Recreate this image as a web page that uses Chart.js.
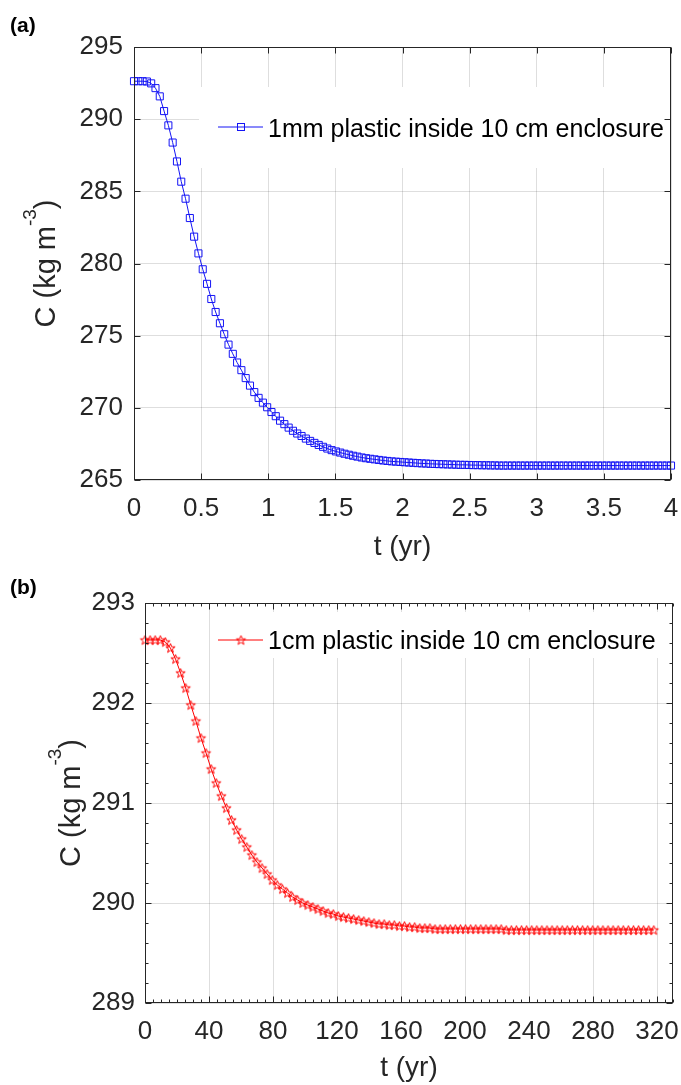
<!DOCTYPE html>
<html><head><meta charset="utf-8">
<script src="https://cdn.jsdelivr.net/npm/chart.js@4.4.1/dist/chart.umd.min.js"></script>
<style>
html,body{margin:0;padding:0;background:#fff;}
#wrap{position:relative;width:681px;height:1085px;overflow:hidden;background:#fff;}
canvas{position:absolute;left:0;}
#ca{top:0;} #cb{top:565px;}
</style></head><body>
<div id="wrap"><canvas id="ca" width="681" height="565"></canvas><canvas id="cb" width="681" height="520"></canvas></div>
<script>
// ---------- Panel (a) data ----------
const T_A = [0,0.032,0.064,0.096,0.128,0.16,0.192,0.224,0.256,0.288,0.32,0.352,0.384,0.416,0.448,0.48,0.512,0.544,0.576,0.608,0.64,0.672,0.704,0.736,0.768,0.8,0.832,0.864,0.896,0.928,0.96,0.992,1.024,1.056,1.088,1.12,1.152,1.184,1.216,1.248,1.28,1.312,1.344,1.376,1.408,1.44,1.472,1.504,1.536,1.568,1.6,1.632,1.664,1.696,1.728,1.76,1.792,1.824,1.856,1.888,1.92,1.952,1.984,2.016,2.048,2.08,2.112,2.144,2.176,2.208,2.24,2.272,2.304,2.336,2.368,2.4,2.432,2.464,2.496,2.528,2.56,2.592,2.624,2.656,2.688,2.72,2.752,2.784,2.816,2.848,2.88,2.912,2.944,2.976,3.008,3.04,3.072,3.104,3.136,3.168,3.2,3.232,3.264,3.296,3.328,3.36,3.392,3.424,3.456,3.488,3.52,3.552,3.584,3.616,3.648,3.68,3.712,3.744,3.776,3.808,3.84,3.872,3.904,3.936,3.968,4.0];
const C_A = [292.63,292.63,292.63,292.61,292.48,292.15,291.58,290.56,289.57,288.38,287.07,285.67,284.49,283.15,281.86,280.70,279.60,278.59,277.54,276.64,275.86,275.10,274.38,273.74,273.14,272.61,272.06,271.54,271.09,270.69,270.36,270.04,269.71,269.42,269.11,268.87,268.63,268.41,268.22,268.05,267.87,267.71,267.57,267.43,267.30,267.18,267.07,266.98,266.90,266.82,266.75,266.68,266.62,266.56,266.51,266.47,266.43,266.39,266.35,266.32,266.29,266.27,266.25,266.23,266.21,266.19,266.17,266.15,266.14,266.12,266.11,266.10,266.09,266.08,266.07,266.06,266.05,266.05,266.04,266.03,266.03,266.02,266.02,266.01,266.01,266.00,
266.00,266.00,266.00,266.00,266.00,266.00,266.00,266.00,266.00,266.00,266.00,266.00,266.00,266.00,266.00,266.00,266.00,266.00,266.00,266.00,266.00,266.00,266.00,266.00,266.00,266.00,266.00,266.00,266.00,266.00,266.00,266.00,266.00,266.00,266.00,266.00,266.00,266.00,266.00,266.00];
const XTICKS_A = [0,0.5,1,1.5,2,2.5,3,3.5,4];
const YTICKS_A = [265,270,275,280,285,290,295];
const LABEL_A = '1mm plastic inside 10 cm enclosure';

// ---------- Panel (b) data ----------
const T_B = [0,3.18,6.36,9.54,12.72,15.9,19.08,22.26,25.44,28.62,31.8,34.98,38.16,41.34,44.52,47.7,50.88,54.06,57.24,60.42,63.6,66.78,69.96,73.14,76.32,79.5,82.68,85.86,89.04,92.22,95.4,98.58,101.76,104.94,108.12,111.3,114.48,117.66,120.84,124.02,127.2,130.38,133.56,136.74,139.92,143.1,146.28,149.46,152.64,155.82,159,162.18,165.36,168.54,171.72,174.9,178.08,181.26,184.44,187.62,190.8,193.98,197.16,200.34,203.52,206.7,209.88,213.06,216.24,219.42,222.6,225.78,228.96,232.14,235.32,238.5,241.68,244.86,248.04,251.22,254.4,257.58,260.76,263.94,267.12,270.3,273.48,276.66,279.84,283.02,286.2,289.38,292.56,295.74,298.92,302.1,305.28,308.46,311.64,314.82,318];
const C_B = [292.63,292.63,292.63,292.63,292.61,292.55,292.44,292.30,292.15,291.98,291.82,291.65,291.50,291.34,291.20,291.07,290.95,290.83,290.73,290.64,290.56,290.48,290.41,290.35,290.29,290.23,290.18,290.14,290.10,290.06,290.03,290.00,289.98,289.96,289.94,289.92,289.90,289.89,289.87,289.86,289.85,289.84,289.83,289.82,289.81,289.80,289.79,289.79,289.78,289.78,289.77,289.77,289.76,289.76,289.75,289.75,289.75,289.74,289.74,
289.74,289.74,289.74,289.74,289.74,289.74,289.74,289.74,289.74,289.74,289.74,289.74,
289.73,289.73,289.73,289.73,289.73,289.73,289.73,289.73,289.73,289.73,289.73,289.73,289.73,289.73,289.73,289.73,289.73,289.73,289.73,289.73,289.73,289.73,289.73,289.73,289.73,289.73,289.73,289.73,289.73,289.73];
const XTICKS_B = [0,40,80,120,160,200,240,280,320];
const YTICKS_B = [289,290,291,292,293];
const LABEL_B = '1cm plastic inside 10 cm enclosure';

const FONT = "'Liberation Sans', Arial, Helvetica, sans-serif";
const AXIS_COL = '#262626';
const GRID_COL = 'rgba(0,0,0,0.13)';
const BLUE = 'rgb(20,20,245)';
const RED = 'rgb(255,0,0)';

function makeStar(color){
  const c = document.createElement('canvas');
  c.width = 13; c.height = 13;
  const g = c.getContext('2d');
  g.strokeStyle = color; g.lineWidth = 1;
  g.beginPath();
  for (let k = 0; k < 10; k++) {
    const r = (k % 2 === 0) ? 4.9 : 2.0;
    const a = -Math.PI / 2 + k * Math.PI / 5;
    const px = 6.5 + r * Math.cos(a), py = 6.9 + r * Math.sin(a);
    if (k) g.lineTo(px, py); else g.moveTo(px, py);
  }
  g.closePath(); g.stroke();
  return c;
}
const STAR = makeStar(RED);

function framePlugin(cfg){
  return {
    id: 'frame_' + cfg.name,
    beforeDatasetsDraw(chart){
      const ctx = chart.ctx, b = cfg.legBox;
      ctx.save(); ctx.fillStyle = '#fff'; ctx.fillRect(b.x, b.y, b.w, b.h); ctx.restore();
    },
    afterDraw(chart){
      const ctx = chart.ctx, a = chart.chartArea, xs = chart.scales.x, ys = chart.scales.y;
      const L = Math.round(a.left) + 0.5, R = Math.round(a.right) - 0.5;
      const T = Math.round(a.top) + 0.5, B = Math.round(a.bottom) - 0.5;
      ctx.save();
      ctx.strokeStyle = AXIS_COL; ctx.lineWidth = 1;
      ctx.strokeRect(L, T, R - L, B - T);
      ctx.beginPath();
      const isMaj = (v, arr) => arr.some(m => Math.abs(m - v) < 1e-6);
      const xt = (v, len) => { const p = Math.round(xs.getPixelForValue(v)) + 0.5; ctx.moveTo(p, B); ctx.lineTo(p, B - len); ctx.moveTo(p, T); ctx.lineTo(p, T + len); };
      const yt = (v, len) => { const p = Math.round(ys.getPixelForValue(v)) + 0.5; ctx.moveTo(L, p); ctx.lineTo(L + len, p); ctx.moveTo(R, p); ctx.lineTo(R - len, p); };
      cfg.xTicks.forEach(v => xt(v, 6));
      cfg.yTicks.forEach(v => yt(v, 6));
      if (cfg.xMinor) { for (let v = xs.min; v <= xs.max + 1e-9; v += cfg.xMinor) if (!isMaj(v, cfg.xTicks)) xt(v, 3); }
      if (cfg.yMinor) { for (let v = ys.min; v <= ys.max + 1e-9; v += cfg.yMinor) if (!isMaj(v, cfg.yTicks)) yt(v, 3); }
      ctx.stroke();

      // legend
      const lg = cfg.leg;
      ctx.strokeStyle = cfg.color; ctx.lineWidth = 1;
      ctx.beginPath(); ctx.moveTo(lg.x0, lg.y); ctx.lineTo(lg.x1, lg.y); ctx.stroke();
      if (cfg.marker === 'rect') {
        ctx.strokeRect(lg.xm - 3.5, lg.y - 3.5, 7, 7);
      } else {
        ctx.drawImage(STAR, lg.xm - STAR.width / 2, lg.y - STAR.height / 2);
      }
      ctx.fillStyle = '#000';
      ctx.font = '25px ' + FONT;
      ctx.textAlign = 'left'; ctx.textBaseline = 'alphabetic';
      ctx.fillText(cfg.label, lg.xt, lg.yb);

      // y title with superscript
      ctx.save();
      ctx.translate(cfg.yTitle.x, cfg.yTitle.y);
      ctx.rotate(-Math.PI / 2);
      ctx.fillStyle = AXIS_COL;
      const f1 = '29px ' + FONT, f2 = '19px ' + FONT;
      ctx.font = f1; const w1 = ctx.measureText('C (kg m').width; const w3 = ctx.measureText(')').width;
      ctx.font = f2; const w2 = ctx.measureText('-3').width;
      let sx = -(w1 + w2 + w3) / 2;
      ctx.textAlign = 'left';
      ctx.font = f1; ctx.fillText('C (kg m', sx, 0); sx += w1;
      ctx.font = f2; ctx.fillText('-3', sx, -19); sx += w2;
      ctx.font = f1; ctx.fillText(')', sx, 0);
      ctx.restore();

      // panel label
      ctx.fillStyle = '#000';
      ctx.font = 'bold 21px ' + FONT;
      ctx.textAlign = 'left'; ctx.textBaseline = 'alphabetic';
      ctx.fillText(cfg.panel, cfg.panelPos.x, cfg.panelPos.y);
      ctx.restore();
    }
  };
}

function build(canvas, cfg){
  return new Chart(canvas, {
    type: 'line',
    data: { datasets: [{
      label: cfg.label,
      data: cfg.T.map((t, i) => ({ x: t, y: cfg.C[i] })),
      borderColor: cfg.color, borderWidth: 1,
      pointStyle: cfg.marker === 'rect' ? 'rect' : STAR,
      pointRadius: 5, pointBorderWidth: 1,
      pointBorderColor: cfg.color, pointBackgroundColor: 'rgba(0,0,0,0)',
      pointHoverRadius: 5, pointHitRadius: 0,
      fill: false, tension: 0, clip: false
    }]},
    options: {
      responsive: false, animation: false, devicePixelRatio: 1, events: [],
      layout: { padding: { left: 0, right: cfg.padR, top: cfg.padT, bottom: 0 } },
      plugins: { legend: { display: false }, tooltip: { enabled: false } },
      scales: {
        x: {
          type: 'linear', min: cfg.xMin, max: cfg.xMax,
          afterBuildTicks: s => { s.ticks = cfg.xTicks.map(v => ({ value: v })); },
          afterFit: s => { s.height = cfg.xH; s.paddingLeft = 0; s.paddingRight = 0; },
          grid: { color: GRID_COL, lineWidth: 1, drawTicks: false },
          border: { display: false },
          ticks: { font: { family: FONT, size: 26 }, color: AXIS_COL, padding: cfg.xPad, maxRotation: 0, minRotation: 0, autoSkip: false, callback: v => String(v) },
          title: { display: true, text: 't (yr)', font: { family: FONT, size: 28, lineHeight: 1.2 }, color: AXIS_COL, padding: { top: 0, bottom: cfg.tPad } }
        },
        y: {
          type: 'linear', min: cfg.yMin, max: cfg.yMax,
          afterBuildTicks: s => { s.ticks = cfg.yTicks.map(v => ({ value: v })); },
          afterFit: s => { s.width = cfg.yW; s.paddingTop = 0; s.paddingBottom = 0; },
          grid: { color: GRID_COL, lineWidth: 1, drawTicks: false },
          border: { display: false },
          ticks: { font: { family: FONT, size: 26 }, color: AXIS_COL, padding: cfg.yPad, autoSkip: false, callback: v => String(v) }
        }
      }
    },
    plugins: [framePlugin(cfg)]
  });
}

build(document.getElementById('ca'), {
  name: 'a', T: T_A, C: C_A, label: LABEL_A, color: BLUE, marker: 'rect',
  xMin: 0, xMax: 4, yMin: 265, yMax: 295, xTicks: XTICKS_A, yTicks: YTICKS_A,
  xMinor: 0, yMinor: 0,
  padT: 47, padR: 10, yW: 134, xH: 85, xPad: 13, yPad: 11, tPad: 1,
  legBox: { x: 199, y: 87, w: 471, h: 81 },
  leg: { x0: 218, x1: 263, xm: 241, y: 127, xt: 268, yb: 136.5 },
  yTitle: { x: 55, y: 263.5 },
  panel: '(a)', panelPos: { x: 10, y: 32 }
});

build(document.getElementById('cb'), {
  name: 'b', T: T_B, C: C_B, label: LABEL_B, color: RED, marker: 'star',
  xMin: 0, xMax: 330, yMin: 289, yMax: 293, xTicks: XTICKS_B, yTicks: YTICKS_B,
  xMinor: 5, yMinor: 0.2,
  padT: 38, padR: 8, yW: 145, xH: 82, xPad: 13, yPad: 10, tPad: 0,
  legBox: { x: 213, y: 47, w: 459, h: 46 },
  leg: { x0: 218, x1: 263, xm: 241, y: 75, xt: 268, yb: 83.5 },
  yTitle: { x: 80, y: 238 },
  panel: '(b)', panelPos: { x: 10, y: 29 }
});
</script>
</body></html>
